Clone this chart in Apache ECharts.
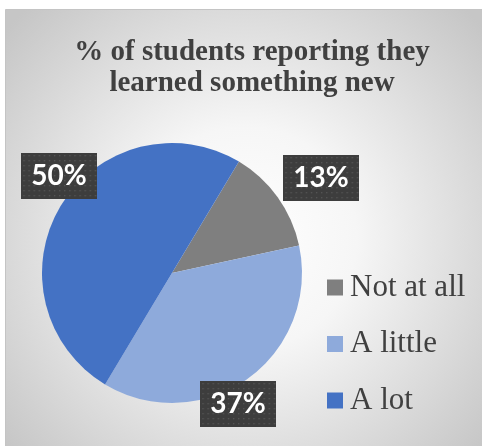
<!DOCTYPE html>
<html>
<head>
<meta charset="utf-8">
<script src="https://cdn.jsdelivr.net/npm/echarts@6/dist/echarts.min.js"></script>
<style>
html,body{margin:0;padding:0;background:#ffffff;}
#chart{width:482px;height:446px;}
</style>
</head>
<body>
<div id="chart"></div>
<script>
// ---- data ----
var categories = ['Not at all', 'A little', 'A lot'];
var values = [13, 37, 50];
var titleLines = ['% of students reporting they', 'learned something new'];

// ---- layout / style ----
var colors = ['#7f7f7f', '#8eaadb', '#4472c4'];
var labelCenters = [[321, 178], [238, 404], [59, 176]];
var SERIF = "'Liberation Serif', 'Times New Roman', 'DejaVu Serif', serif";

function makeDots(w, h) {
  var c = document.createElement('canvas');
  c.width = w; c.height = h;
  var g = c.getContext('2d');
  g.fillStyle = '#3d3d3d';
  g.fillRect(0, 0, w, h);
  g.fillStyle = '#555555';
  for (var y = 2; y < h; y += 5) {
    for (var x = 2; x < w; x += 5) {
      g.fillRect(x, y, 1.4, 1.4);
    }
  }
  return c;
}
var dotBg = makeDots(74, 46);

var chart = echarts.init(document.getElementById('chart'), null, {renderer: 'canvas'});
var option = {
  backgroundColor: '#ffffff',
  animation: false,
  graphic: [{
    type: 'rect',
    silent: true,
    z: -10,
    shape: {x: 5.5, y: 9.5, width: 480, height: 440},
    style: {
      fill: {
        type: 'radial', x: 0.5, y: 0.52, r: 0.72,
        colorStops: [
          {offset: 0, color: '#ffffff'},
          {offset: 0.35, color: '#f6f6f6'},
          {offset: 1, color: '#c6c6c6'}
        ]
      },
      stroke: '#c4c4c4',
      lineWidth: 1
    }
  }],
  title: {
    text: titleLines.join('\n'),
    left: 247,
    top: 32,
    textAlign: 'center',
    textStyle: {
      fontFamily: SERIF,
      fontWeight: 'bold',
      fontSize: 29,
      lineHeight: 31,
      color: '#404040'
    }
  },
  legend: {
    orient: 'vertical',
    left: 322,
    top: 267,
    icon: 'rect',
    itemWidth: 16,
    itemHeight: 16,
    itemGap: 25.5,
    data: categories,
    textStyle: {
      fontFamily: SERIF,
      fontSize: 31,
      lineHeight: 31,
      color: '#404040',
      padding: [0, 0, 0, 2]
    }
  },
  color: colors,
  series: [{
    type: 'pie',
    center: [172, 273],
    radius: 130,
    startAngle: 59,
    clockwise: true,
    avoidLabelOverlap: false,
    labelLine: {show: false},
    itemStyle: {borderWidth: 0},
    emphasis: {disabled: true},
    data: categories.map(function (c, i) { return {name: c, value: values[i]}; }),
    label: {
      show: true,
      position: 'outside',
      formatter: function (p) { return p.value + '%'; },
      fontFamily: "'Lato', 'Open Sans', sans-serif",
      fontWeight: 'bold',
      fontSize: 28,
      lineHeight: 28,
      color: '#ffffff',
      backgroundColor: {image: dotBg},
      overflow: 'none',
      align: 'center',
      padding: [9, 10, 9, 10],
      shadowColor: 'rgba(0,0,0,0.45)',
      shadowBlur: 6,
      shadowOffsetX: 3,
      shadowOffsetY: 3
    },
    labelLayout: function (p) {
      var c = labelCenters[p.dataIndex];
      return {x: c[0], y: c[1], align: 'center', verticalAlign: 'middle'};
    }
  }]
};
chart.setOption(option);
</script>
</body>
</html>
